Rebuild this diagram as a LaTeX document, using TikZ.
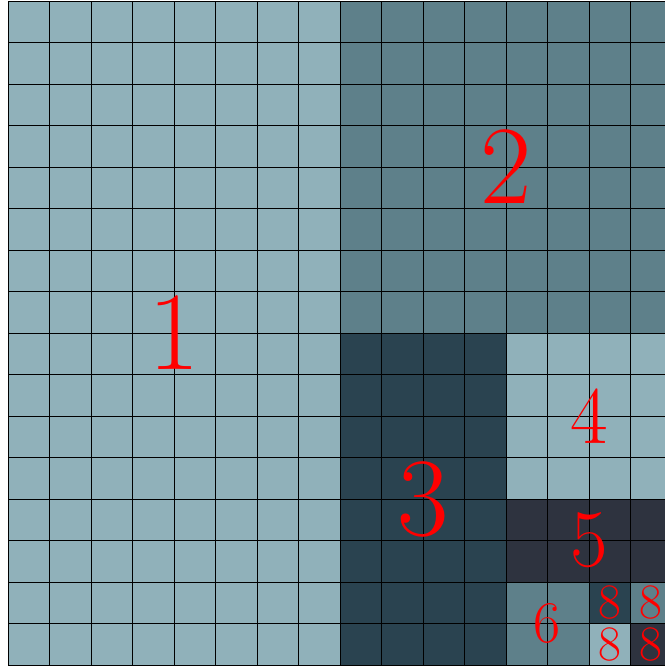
\documentclass[tikz,border=0pt]{standalone}
\definecolor{cLight}{HTML}{90B1BA}
\definecolor{cMid}{HTML}{5E808A}
\definecolor{cDark}{HTML}{2A4350}
\definecolor{cDarkest}{HTML}{2E333F}
\begin{document}
\begin{tikzpicture}[x=1cm,y=1cm,
  lbl/.style={text=red, inner sep=0pt, anchor=center},
  gridline/.style={draw=black, line width=0.6pt}]
\useasboundingbox (-0.193,-16.145) rectangle (15.83,0.024);
% regions
\fill[cLight] (0,0) rectangle (8,-16);
\fill[cMid] (8,0) rectangle (16,-8);
\fill[cDark] (8,-8) rectangle (12,-16);
\fill[cLight] (12,-8) rectangle (16,-12);
\fill[cDarkest] (12,-12) rectangle (16,-14);
\fill[cMid] (12,-14) rectangle (14,-16);
\fill[cDark] (14,-14) rectangle (15,-15);
\fill[cMid] (15,-14) rectangle (16,-15);
\fill[cLight] (14,-15) rectangle (15,-16);
\fill[cDarkest] (15,-15) rectangle (16,-16);
% grid
\draw[gridline] (0,-16) grid[step=1] (16,0);
% labels
\node[lbl, font=\fontsize{76.6}{80}\selectfont] (l1) at (4,-8) {1};
\node[lbl, font=\fontsize{76.6}{80}\selectfont] (l2) at (12,-4) {2};
\node[lbl, font=\fontsize{76.6}{80}\selectfont] (l3) at (10,-12) {3};
\node[lbl, font=\fontsize{56}{60}\selectfont] (l4) at (14,-10) {4};
\node[lbl, font=\fontsize{56}{60}\selectfont] (l5) at (14,-13) {5};
\node[lbl, font=\fontsize{40.5}{44}\selectfont] (l6) at (13,-15) {6};
\node[lbl, font=\fontsize{34}{38}\selectfont] (l8a) at (14.5,-14.5) {8};
\node[lbl, font=\fontsize{34}{38}\selectfont] (l8b) at (15.5,-14.5) {8};
\node[lbl, font=\fontsize{34}{38}\selectfont] (l8c) at (14.5,-15.5) {8};
\node[lbl, font=\fontsize{34}{38}\selectfont] (l8d) at (15.5,-15.5) {8};
\end{tikzpicture}
\end{document}
